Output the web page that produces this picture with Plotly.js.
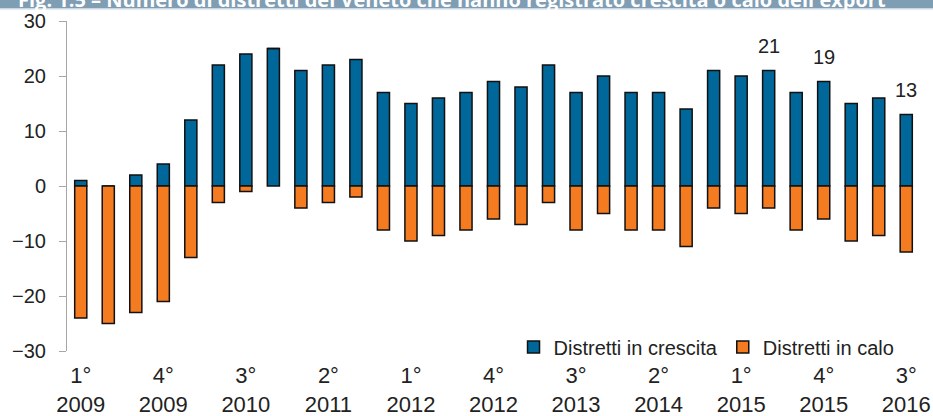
<!DOCTYPE html>
<html>
<head>
<meta charset="utf-8">
<script src="https://cdn.plot.ly/plotly-3.0.1.min.js"></script>
<style>html,body{margin:0;padding:0;background:#fff;}#chart{width:933px;height:416px;}</style>
</head>
<body>
<div id="chart"></div>
<script>
const categories = [
  "1°|2009","2°|2009","3°|2009","4°|2009",
  "1°|2010","2°|2010","3°|2010","4°|2010",
  "1°|2011","2°|2011","3°|2011","4°|2011",
  "1°|2012","2°|2012","3°|2012","4°|2012",
  "1°|2013","2°|2013","3°|2013","4°|2013",
  "1°|2014","2°|2014","3°|2014","4°|2014",
  "1°|2015","2°|2015","3°|2015","4°|2015",
  "1°|2016","2°|2016","3°|2016"
];
const crescita = [1,0,2,4,12,22,24,25,21,22,23,17,15,16,17,19,18,22,17,20,17,17,14,21,20,21,17,19,15,16,13];
const calo = [-24,-25,-23,-21,-13,-3,-1,0,-4,-3,-2,-8,-10,-9,-8,-6,-7,-3,-8,-5,-8,-8,-11,-4,-5,-4,-8,-6,-10,-9,-12];
const labelledIdx = [25,27,30];
const yTicks = [-30,-20,-10,0,10,20,30];
const titleText = "Fig. 1.5 – Numero di distretti del Veneto che hanno registrato crescita o calo dell'export";
const seriesNames = ["Distretti in crescita","Distretti in calo"];

const xIdx = categories.map((c,i)=>i);
const tickIdx = xIdx.filter(i => i % 3 === 0);
const tickText = tickIdx.map(i => categories[i].replace("|","<br>"));
const boundaryTicks = xIdx.filter(i => i % 3 === 2 && i < categories.length-1).map(i => i + 0.5);

const font = "Liberation Sans, Arial, sans-serif";
const axisGrey = "#a6a6a6";

const traces = [
  {type:"bar", name:seriesNames[0], x:xIdx, y:crescita, width:0.44,
   marker:{color:"#00679a", line:{color:"#111", width:1.5}}},
  {type:"bar", name:seriesNames[1], x:xIdx, y:calo, width:0.44,
   marker:{color:"#f47b20", line:{color:"#111", width:1.5}}}
];

const annotations = labelledIdx.map(i => ({
  x:i, y:crescita[i], xref:"x", yref:"y", text:String(crescita[i]),
  showarrow:false, yanchor:"bottom", yshift:12,
  font:{family:font, size:20, color:"#222"}
}));

const layout = {
  width:933, height:416,
  margin:{l:67, r:13, t:21, b:65, pad:0},
  paper_bgcolor:"#fff", plot_bgcolor:"#fff",
  barmode:"relative",
  showlegend:true,
  title:{text:"<b>"+titleText+"</b>", xref:"container", yref:"container",
         x:0.0193, xanchor:"left", y:1.0, yanchor:"middle",
         pad:{t:0,b:0,l:0,r:0},
         font:{family:"Open Sans, sans-serif", size:20, color:"#fff"}},
  xaxis:{range:[-0.5, categories.length-0.5], tickmode:"array", tickvals:tickIdx, ticktext:tickText,
         showgrid:false, zeroline:false, showline:false, ticks:"",
         ticklabelstandoff:9,
         tickfont:{family:font, size:22, color:"#222"}},
  xaxis2:{overlaying:"x", anchor:"free", position:0.5, range:[-0.5, categories.length-0.5],
          tickmode:"array", tickvals:boundaryTicks, showticklabels:false,
          ticks:"outside", ticklen:5, tickcolor:axisGrey, tickwidth:1,
          showline:true, linecolor:axisGrey, linewidth:1, showgrid:false, zeroline:false,
          layer:"below traces"},
  yaxis:{range:[-30,30], tickmode:"array", tickvals:yTicks, showgrid:false, zeroline:false,
         showline:true, linecolor:axisGrey, linewidth:1, ticks:"outside", ticklen:7,
         tickcolor:axisGrey, tickwidth:1, ticklabelstandoff:9,
         tickfont:{family:font, size:20, color:"#222"}, layer:"below traces"},
  legend:{orientation:"h", x:0.976, xanchor:"right", y:0.012, yanchor:"middle",
          bgcolor:"rgba(0,0,0,0)", font:{family:font, size:20, color:"#222"},
          traceorder:"normal", itemclick:false},
  shapes:[
    {type:"rect", xref:"paper", yref:"paper", x0:-0.1, x1:1.1, y0:1.0395, y1:1.1,
     fillcolor:"#7f9db3", line:{width:0}, layer:"below"},
    {type:"rect", xref:"paper", yref:"paper", x0:-0.1, x1:1.1, y0:1.035, y1:1.0395,
     fillcolor:"#c9d8e4", line:{width:0}, layer:"below"}
  ],
  annotations:annotations
};

Plotly.newPlot("chart", traces, layout, {staticPlot:true, displayModeBar:false});
</script>
</body>
</html>
